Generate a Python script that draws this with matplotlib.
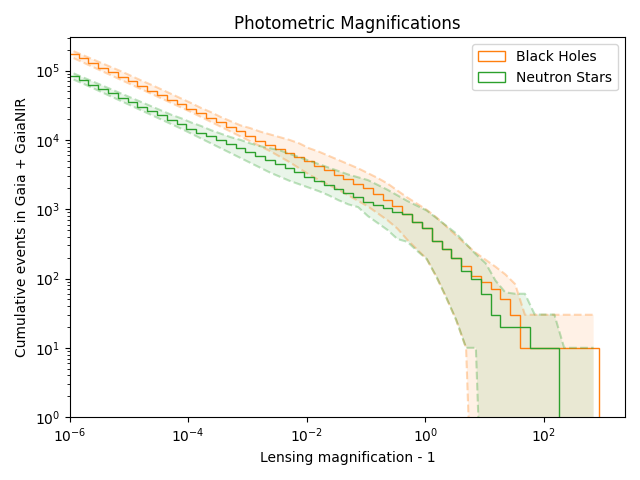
import numpy as np
import matplotlib
matplotlib.use("Agg")
import matplotlib.pyplot as plt
from matplotlib.ticker import LogLocator, NullLocator

# ---------------- data ----------------
# log10 of the bin edges (log-spaced bins, 54 bins)
edge_log_first = -6.0155
edge_log_last = 2.922
n_bins = 54

# cumulative counts per bin (step lines)
black_holes = [174000, 150000, 129000, 110000, 95000, 81500, 70000, 60100, 51600, 44400,
               38100, 32800, 28200, 24300, 20900, 18000, 15500, 13400, 11400, 9770,
               8510, 7410, 6460, 5620, 4900, 4270, 3630, 3160, 2750, 2340,
               2040, 1660, 1350, 1100, 840, 650, 540, 350, 270, 200,
               150, 110, 90, 70, 50, 30, 10, 10, 10, 10,
               10, 10, 10, 10]
neutron_stars = [84000, 72400, 62700, 54100, 46800, 40400, 34900, 30100, 26100, 22500,
                 19500, 16800, 14500, 12700, 11200, 9820, 8610, 7550, 6640, 5890,
                 5130, 4470, 3890, 3390, 2950, 2570, 2240, 1950, 1700, 1480,
                 1290, 1150, 1050, 900, 840, 650, 540, 350, 270, 200,
                 130, 100, 60, 30, 20, 20, 20, 10, 10, 10,
                 0, 0, 0, 0]

# uncertainty bands, log10(count) at bin centres (-3 = zero, below the axis)
bh_upper_log10 = [5.28, 5.22, 5.16, 5.10, 5.04, 4.98, 4.915, 4.85, 4.79, 4.725,
                  4.66, 4.595, 4.53, 4.46, 4.40, 4.33, 4.27, 4.21, 4.17, 4.12,
                  4.08, 4.04, 4.00, 3.95, 3.88, 3.83, 3.77, 3.71, 3.65, 3.59,
                  3.52, 3.45, 3.37, 3.27, 3.17, 3.08, 2.99, 2.88, 2.75, 2.62,
                  2.49, 2.37, 2.27, 2.17, 2.06, 1.92, 1.477, 1.477, 1.477, 1.477,
                  1.477, 1.477, 1.477, 1.477]
bh_lower_log10 = [5.18, 5.115, 5.05, 4.985, 4.92, 4.855, 4.79, 4.725, 4.66, 4.595,
                  4.53, 4.465, 4.40, 4.33, 4.26, 4.19, 4.12, 4.05, 3.98, 3.91,
                  3.84, 3.76, 3.68, 3.59, 3.50, 3.42, 3.35, 3.28, 3.20, 3.12,
                  3.04, 2.94, 2.84, 2.72, 2.56, 2.42, 2.28, 2.02, 1.72, 1.40,
                  1.00, -3, -3, -3, -3, -3, -3, -3, -3, -3,
                  -3, -3, -3, -3]
ns_upper_log10 = [4.96, 4.90, 4.84, 4.78, 4.72, 4.66, 4.60, 4.54, 4.48, 4.42,
                  4.36, 4.31, 4.25, 4.20, 4.14, 4.09, 4.04, 4.00, 3.95, 3.91,
                  3.88, 3.85, 3.80, 3.75, 3.70, 3.65, 3.60, 3.55, 3.50, 3.46,
                  3.42, 3.35, 3.28, 3.20, 3.12, 3.05, 2.98, 2.87, 2.76, 2.65,
                  2.50, 2.35, 2.22, 1.97, 1.80, 1.78, 1.78, 1.48, 1.48, 1.48,
                  1.0, 1.0, 1.0, 1.0]
ns_lower_log10 = [4.87, 4.81, 4.745, 4.68, 4.615, 4.55, 4.485, 4.42, 4.355, 4.29,
                  4.225, 4.16, 4.09, 4.02, 3.95, 3.88, 3.81, 3.74, 3.67, 3.60,
                  3.53, 3.47, 3.41, 3.36, 3.31, 3.26, 3.20, 3.13, 3.07, 3.03,
                  2.90, 2.80, 2.70, 2.57, 2.53, 2.40, 2.28, 2.02, 1.72, 1.40,
                  1.0, 1.0, -3, -3, -3, -3, -3, -3, -3, -3,
                  -3, -3, -3, -3]

labels = ["Black Holes", "Neutron Stars"]
title = "Photometric Magnifications"
xlabel = "Lensing magnification - 1"
ylabel = "Cumulative events in Gaia + GaiaNIR"

# ---------------- plot ----------------
edges = np.logspace(edge_log_first, edge_log_last, n_bins + 1)
centers = np.sqrt(edges[:-1] * edges[1:])

fig, ax = plt.subplots(figsize=(6.4, 4.8), dpi=100)
ax.set_xscale("log")
ax.set_yscale("log", nonpositive="clip")

series = [
    (black_holes, bh_upper_log10, bh_lower_log10, "C1", labels[0]),
    (neutron_stars, ns_upper_log10, ns_lower_log10, "C2", labels[1]),
]
for vals, up, lo, col, lab in series:
    upper = 10.0 ** np.array(up)
    lower = 10.0 ** np.array(lo)
    ax.fill_between(centers, lower, upper, color=col, alpha=0.1, lw=0)
    ax.plot(centers, upper, ls="--", color=col, alpha=0.3, lw=1.5)
    ax.plot(centers, lower, ls="--", color=col, alpha=0.3, lw=1.5)
    ax.hist(centers, bins=edges, weights=vals, histtype="step",
            color=col, lw=1.0, label=lab)

ax.set_xlim(1e-6, 10 ** 3.369)
ax.set_ylim(1, 10 ** 5.48)
ax.xaxis.set_major_locator(LogLocator(base=100.0))
ax.xaxis.set_minor_locator(NullLocator())
ax.set_title(title)
ax.set_xlabel(xlabel)
ax.set_ylabel(ylabel)
ax.legend(loc="upper right")
fig.tight_layout()
fig.savefig("out.png", dpi=100)
